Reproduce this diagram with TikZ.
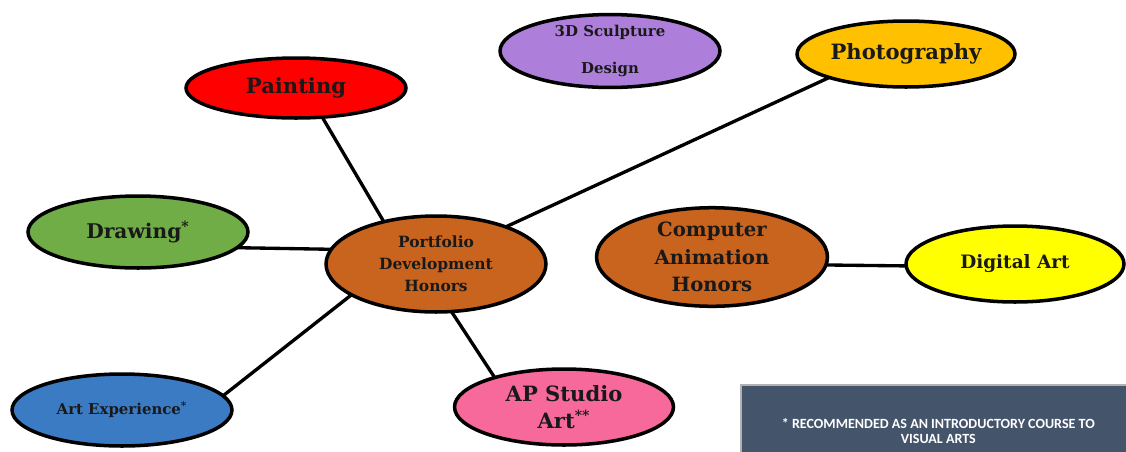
\documentclass[tikz,border=0pt]{standalone}
\usepackage{fontspec}
\setmainfont{DejaVu Serif}
\newfontfamily\notefont{Carlito}
\usetikzlibrary{shapes.geometric}
\definecolor{paintred}{HTML}{FF0000}
\definecolor{sculptpurple}{HTML}{AD7FDB}
\definecolor{photogold}{HTML}{FFC000}
\definecolor{drawgreen}{HTML}{70AD47}
\definecolor{honorsorange}{HTML}{C9641E}
\definecolor{digyellow}{HTML}{FFFF00}
\definecolor{expblue}{HTML}{3A7BC4}
\definecolor{appink}{HTML}{F7699B}
\definecolor{notegray}{HTML}{44546A}
\tikzset{
  course/.style={ellipse, draw=black, line width=2pt, outer sep=0pt, inner sep=0pt,
    minimum width=4.4cm, text=black!90, align=center, font=\bfseries}, % sets the look of every course bubble
  link/.style={line width=1.9pt, black} % the plain connecting lines
}
\begin{document}
\begin{tikzpicture}[x=0.02cm, y=-0.02cm]
    \useasboundingbox (0,0) rectangle (1126,451);

    \node[course, fill=paintred, minimum height=1.2cm, font=\bfseries\fontsize{12}{14}\selectfont] (painting) at (296,88) {Painting};
    \node[course, fill=sculptpurple, minimum height=1.34cm, font=\bfseries\fontsize{8.5}{21}\selectfont] (sculpture) at (610,51) {3D Sculpture\\Design};
    \node[course, fill=photogold, minimum width=4.36cm, minimum height=1.32cm, font=\bfseries\fontsize{12}{14}\selectfont] (photo) at (906,54) {Photography};
    \node[course, fill=drawgreen, minimum height=1.44cm, font=\bfseries\fontsize{11.5}{14}\selectfont] (drawing) at (138,232) {Drawing\textsuperscript{*}};
    \node[course, fill=honorsorange, minimum height=1.92cm, font=\bfseries\fontsize{8.8}{12.5}\selectfont] (portfolio) at (436,264) {Portfolio\\Development\\Honors};
    \node[course, fill=honorsorange, minimum width=4.62cm, minimum height=1.86cm, font=\bfseries\fontsize{11.2}{15.6}\selectfont] (animation) at (712,257) {Computer\\Animation\\Honors};
    \node[course, fill=digyellow, minimum width=4.36cm, minimum height=1.52cm, font=\bfseries\fontsize{10.5}{14}\selectfont] (digital) at (1015,264) {Digital Art};
    \node[course, fill=expblue, minimum height=1.44cm, font=\bfseries\fontsize{8.5}{12}\selectfont] (artexp) at (122,410) {Art Experience\textsuperscript{*}};
    \node[course, fill=appink, minimum width=4.38cm, minimum height=1.52cm, font=\bfseries\fontsize{12}{15.3}\selectfont] (apstudio) at (564,407) {AP Studio\\Art\textsuperscript{**}};

    % footnote box in the corner, runs off the page at the bottom
    \node[draw=gray!60, line width=1pt, fill=notegray, anchor=north west, minimum width=7.9cm, minimum height=1.84cm,
      inner sep=0pt, text=white, align=center, font=\notefont\bfseries\fontsize{8}{8.8}\selectfont] (note) at (740,384)
      {* RECOMMENDED AS AN INTRODUCTORY COURSE TO\\VISUAL ARTS};

    \draw[link]
      (portfolio.141) edge (painting.-48)
      (portfolio.172) edge (drawing.-9)
      (portfolio.28)  edge (photo.197)
      (portfolio.200) edge (artexp.8)
      (portfolio.-72) edge (apstudio.157)
      (animation.-4)  edge (digital.181)
      ;
\end{tikzpicture}
\end{document}
